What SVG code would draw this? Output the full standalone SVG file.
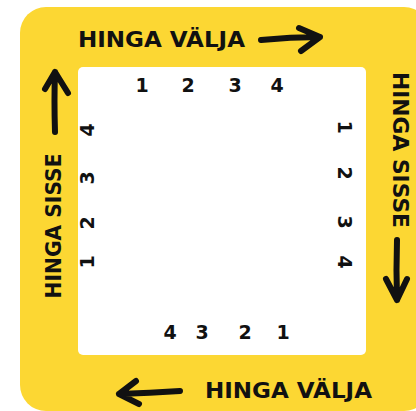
<svg xmlns="http://www.w3.org/2000/svg" width="416" height="411" viewBox="0 0 416 411">
<defs>
<style>
.lbl{font-family:"DejaVu Sans","Liberation Sans",sans-serif;font-weight:bold;font-size:22px;fill:#111;text-anchor:middle}
.num{font-family:"DejaVu Sans","Liberation Sans",sans-serif;font-weight:bold;font-size:19px;fill:#111;text-anchor:middle}
.arr{fill:none;stroke:#111;stroke-width:6;stroke-linecap:round;stroke-linejoin:round}
</style>
</defs>
<rect width="416" height="411" fill="#ffffff"/>
<g id="frame">
<rect x="20" y="7" width="410" height="404" rx="26" fill="#FCD733"/>
<rect x="78" y="67" width="288" height="288" rx="5" fill="#ffffff"/>
</g>
<g id="label-top"><text class="lbl" x="161.5" y="47" textLength="167" lengthAdjust="spacingAndGlyphs">HINGA VÄLJA</text></g>
<g id="label-right"><text class="lbl" transform="translate(401,150) rotate(90)" x="0" y="8" textLength="156" lengthAdjust="spacingAndGlyphs">HINGA SISSE</text></g>
<g id="label-bottom"><text class="lbl" x="288.5" y="398" textLength="167" lengthAdjust="spacingAndGlyphs">HINGA VÄLJA</text></g>
<g id="label-left"><text class="lbl" transform="translate(53,226) rotate(-90)" x="0" y="8" textLength="145" lengthAdjust="spacingAndGlyphs">HINGA SISSE</text></g>
<g id="numbers-top">
<text class="num" x="142" y="92">1</text>
<text class="num" x="188" y="92">2</text>
<text class="num" x="235" y="92">3</text>
<text class="num" x="277" y="92">4</text>
</g>
<g id="numbers-right">
<text class="num" transform="translate(345,127) rotate(90)" y="7">1</text>
<text class="num" transform="translate(345,173) rotate(90)" y="7">2</text>
<text class="num" transform="translate(345,222) rotate(90)" y="7">3</text>
<text class="num" transform="translate(345,262) rotate(90)" y="7">4</text>
</g>
<g id="numbers-bottom">
<text class="num" x="170" y="339">4</text>
<text class="num" x="202" y="339">3</text>
<text class="num" x="245" y="339">2</text>
<text class="num" x="283" y="339">1</text>
</g>
<g id="numbers-left">
<text class="num" transform="translate(87,262) rotate(-90)" y="7">1</text>
<text class="num" transform="translate(87,223) rotate(-90)" y="7">2</text>
<text class="num" transform="translate(87,178) rotate(-90)" y="7">3</text>
<text class="num" transform="translate(87,130) rotate(-90)" y="7">4</text>
</g>
<g id="connectors">
<path class="arr" d="M261 40 Q290 37 320 37 M299 28 L320 37 L301 51"/>
<path class="arr" d="M397 240 Q396 270 397 300 M386 279 L397 300 L407 279"/>
<path class="arr" d="M180 391 Q150 393 119 394 M136 381 L119 394 L139 404"/>
<path class="arr" d="M55 132 Q54 100 55 72 M45 89 L55 72 L68 93"/>
</g>
</svg>
